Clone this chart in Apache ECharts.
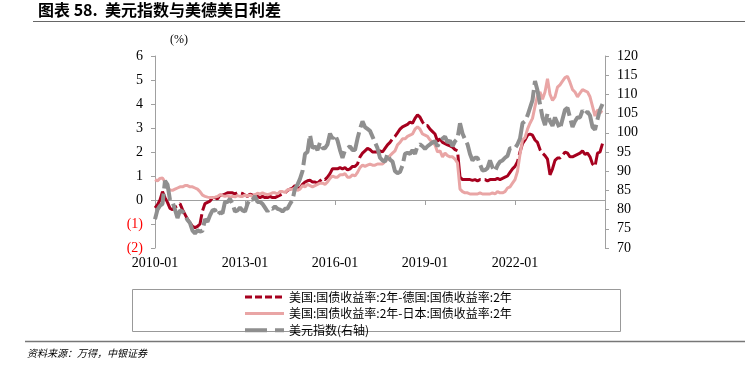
<!DOCTYPE html>
<html><head><meta charset="utf-8">
<script src="https://cdn.jsdelivr.net/npm/echarts/dist/echarts.min.js"></script>
<style>html,body{margin:0;padding:0;background:#fff}#c{width:745px;height:366px}</style>
</head><body><div id="c"></div>
<script>
// ---- data ----
const months = [];
for (let y = 2010; y <= 2024; y++) for (let m = 1; m <= 12; m++) months.push(y + '-' + String(m).padStart(2, '0'));

const xTickLabels = ['2010-01', '2013-01', '2016-01', '2019-01', '2022-01'];
const seriesNames = ['美国:国债收益率:2年-德国:国债收益率:2年', '美国:国债收益率:2年-日本:国债收益率:2年', '美元指数(右轴)'];

const usDeSpread = [
  -0.33,-0.2,0.0,0.35,0.1,-0.1,-0.35,-0.4,-0.3,-0.25,-0.15,-0.4,
  -0.6,-0.8,-0.95,-1.1,-1.15,-1.1,-1.0,-0.45,-0.15,-0.1,-0.05,0.1,
  0.1,0.05,0.2,0.2,0.25,0.3,0.3,0.3,0.25,0.3,0.3,0.27,
  0.2,0.15,0.25,0.2,0.2,0.15,0.1,0.15,0.1,0.1,0.15,0.1,
  0.1,0.15,0.2,0.25,0.3,0.4,0.45,0.5,0.6,0.5,0.5,0.65,
  0.75,0.8,0.82,0.75,0.75,0.7,0.8,0.9,0.85,0.95,1.1,1.3,
  1.3,1.3,1.35,1.3,1.35,1.25,1.3,1.4,1.4,1.5,1.8,1.95,
  2.05,2.15,2.1,2.0,2.0,2.0,2.05,2.0,2.15,2.3,2.4,2.55,
  2.65,2.8,2.95,3.05,3.1,3.15,3.25,3.2,3.4,3.55,3.45,3.25,
  3.1,3.1,2.95,2.85,2.75,2.45,2.55,2.4,2.35,2.3,2.25,2.2,
  2.1,2.05,0.95,0.85,0.85,0.85,0.85,0.82,0.85,0.8,0.85,0.85,
  0.85,0.8,0.85,0.85,0.85,0.9,0.85,0.9,0.95,1.0,1.15,1.3,
  1.4,1.6,2.0,2.35,2.5,2.7,2.75,2.7,2.5,2.4,2.1,1.95,
  1.85,1.7,1.05,1.3,1.65,1.75,1.75,1.85,2.0,1.95,1.8,1.8,
  1.85,1.9,1.95,2.05,1.9,1.95,1.8,1.5,1.4,1.95,2.0,2.35
];

const usJpSpread = [
  0.85,0.8,0.9,0.92,0.75,0.5,0.42,0.4,0.45,0.5,0.55,0.55,
  0.6,0.6,0.55,0.55,0.5,0.45,0.35,0.2,0.15,0.12,0.1,0.1,
  0.12,0.15,0.22,0.18,0.15,0.18,0.12,0.15,0.13,0.18,0.15,0.15,
  0.2,0.18,0.2,0.15,0.22,0.28,0.25,0.3,0.25,0.22,0.25,0.3,
  0.3,0.25,0.35,0.35,0.32,0.42,0.45,0.45,0.5,0.4,0.45,0.6,
  0.55,0.65,0.6,0.55,0.6,0.65,0.7,0.7,0.65,0.75,0.9,1.0,
  0.95,0.95,1.05,1.05,1.1,0.95,0.95,1.05,1.0,1.15,1.35,1.45,
  1.4,1.45,1.5,1.45,1.45,1.5,1.5,1.5,1.6,1.7,1.85,1.95,
  2.05,2.3,2.4,2.55,2.55,2.65,2.7,2.75,2.95,3.05,2.95,2.75,
  2.7,2.65,2.5,2.4,2.3,2.0,2.05,1.8,1.95,1.85,1.8,1.8,
  1.7,1.55,0.45,0.35,0.3,0.3,0.25,0.25,0.25,0.25,0.3,0.25,
  0.25,0.25,0.25,0.3,0.25,0.35,0.3,0.3,0.35,0.5,0.55,0.7,
  0.85,1.2,1.9,2.5,2.6,2.95,3.2,3.4,3.9,4.35,4.5,4.2,
  4.5,5.05,4.4,4.15,4.3,4.7,4.8,4.95,5.1,5.15,4.9,4.6,
  4.5,4.3,4.45,4.6,4.55,4.5,4.3,3.9,3.5,3.75,3.7,3.65
];

const dxy = [
  77.5,80.0,81.0,81.5,87.5,86.5,82.5,82.0,80.0,77.8,79.8,79.5,
  78.5,77.3,76.5,74.5,73.8,74.6,74.3,74.5,77.5,76.8,78.5,79.8,
  80.0,78.5,79.3,79.0,82.0,82.0,82.8,81.5,79.5,79.8,80.5,79.8,
  79.5,81.5,82.8,82.5,83.5,82.0,82.0,81.5,80.5,79.5,80.5,80.2,
  80.8,80.2,80.0,79.5,80.2,80.3,81.5,82.5,85.5,86.5,88.0,90.0,
  94.5,95.0,99.5,96.0,96.5,95.5,97.5,96.0,96.0,97.0,99.8,98.5,
  99.5,98.0,95.5,93.5,95.5,96.0,96.5,95.5,95.5,98.5,101.0,103.0,
  101.5,101.0,100.5,99.0,97.5,96.0,93.5,92.8,92.5,94.5,93.0,92.5,
  90.0,89.5,89.8,91.5,94.5,94.8,94.5,95.5,94.5,96.5,97.0,96.5,
  95.8,96.5,97.0,97.5,97.8,96.5,97.8,98.5,99.0,97.5,98.0,96.5,
  97.8,98.5,102.5,99.8,98.3,97.0,94.5,92.8,93.5,93.5,91.8,90.2,
  90.3,90.8,92.8,91.0,90.0,91.5,92.5,92.8,93.5,94.0,96.0,96.0,
  96.0,97.0,98.5,102.5,103.0,104.5,106.5,108.5,113.5,111.0,107.5,104.0,
  102.0,105.0,103.0,101.8,104.0,102.5,101.0,103.5,106.0,106.5,104.0,101.5,
  103.0,104.0,104.0,105.8,104.8,105.5,104.5,101.5,100.8,103.5,106.0,107.5
];

// ---- build ----
function toX(s) { const p = s.split('-').map(Number); return p[0] + (p[1] - 1) / 12; }
function pairs(vals) { return months.map((m, i) => [toX(m), vals[i]]); }

const RED = '#A6001E', PINK = '#E9A5A5', GRAY = '#8F8F8F', AX = '#A0A0A0';
const serif = '"Liberation Serif","Times New Roman",serif';
const cjk = '"Noto Sans CJK SC","Liberation Serif",sans-serif';

const chart = echarts.init(document.getElementById('c'), null, { renderer: 'canvas' });
chart.setOption({
  animation: false,
  backgroundColor: '#fff',
  grid: { left: 155, right: 140, top: 56, bottom: 118 },
  xAxis: [
    { type: 'value', position: 'top', min: 2010, max: 2025, interval: 3,
      axisLine: { show: true, onZero: true, lineStyle: { color: AX, width: 1 } },
      axisTick: { show: true, inside: true, length: 5, lineStyle: { color: AX } },
      axisLabel: { show: false }, splitLine: { show: false } },
    { type: 'value', position: 'bottom', min: 2010, max: 2025, interval: 3,
      axisLine: { show: false, onZero: false }, axisTick: { show: false }, splitLine: { show: false },
      axisLabel: { show: true, margin: 8, fontSize: 14, color: '#000', fontFamily: serif,
        formatter: v => { const i = Math.round((v - 2010) / 3); return xTickLabels[i] || ''; } } }
  ],
  yAxis: [
    { type: 'value', position: 'left', min: -2, max: 6, interval: 1,
      axisLine: { show: true, lineStyle: { color: AX } },
      axisTick: { show: true, length: 4, lineStyle: { color: AX } },
      splitLine: { show: false },
      axisLabel: { margin: 12, fontSize: 14, fontFamily: serif,
        color: v => (Number(v) < 0 ? '#FF0000' : '#000'),
        formatter: v => (v < 0 ? '(' + (-v) + ')' : String(v)) } },
    { type: 'value', position: 'right', min: 70, max: 120, interval: 5,
      axisLine: { show: true, lineStyle: { color: AX } },
      axisTick: { show: true, length: 4, lineStyle: { color: AX } },
      splitLine: { show: false },
      axisLabel: { margin: 12, fontSize: 14, fontFamily: serif, color: '#000' } }
  ],
  legend: {
    orient: 'vertical', left: 243, top: 291, itemWidth: 39, itemHeight: 10, itemGap: 4.6,
    padding: 0,
    textStyle: { fontSize: 12, lineHeight: 10, color: '#000', fontFamily: cjk },
    itemStyle: { opacity: 0 },
    data: [
      { name: seriesNames[0], lineStyle: { color: RED, width: 3, type: [7, 3] } },
      { name: seriesNames[1], lineStyle: { color: PINK, width: 3, type: 'solid' } },
      { name: seriesNames[2], lineStyle: { color: GRAY, width: 4, type: [22, 8] } }
    ]
  },
  series: [
    { name: seriesNames[0], type: 'line', xAxisIndex: 1, yAxisIndex: 0, symbol: 'none', data: pairs(usDeSpread),
      lineStyle: { color: RED, width: 3, type: [45, 4] }, itemStyle: { color: RED } },
    { name: seriesNames[1], type: 'line', xAxisIndex: 1, yAxisIndex: 0, symbol: 'none', data: pairs(usJpSpread),
      lineStyle: { color: PINK, width: 3 }, itemStyle: { color: PINK } },
    { name: seriesNames[2], type: 'line', xAxisIndex: 1, yAxisIndex: 1, symbol: 'none', data: pairs(dxy),
      lineStyle: { color: GRAY, width: 4, type: [28, 5] }, itemStyle: { color: GRAY } }
  ],
  graphic: [
    { type: 'text', x: 38, y: 10, style: { text: '图表 58.  美元指数与美德美日利差', font: 'bold 16px ' + cjk, fill: '#000', verticalAlign: 'middle' } },
    { type: 'line', shape: { x1: 33, y1: 21.5, x2: 745, y2: 21.5 }, style: { stroke: '#666', lineWidth: 1 } },
    { type: 'text', x: 170, y: 40, style: { text: '(%)', font: '12px ' + serif, fill: '#000', verticalAlign: 'middle' } },
    { type: 'rect', shape: { x: 132.5, y: 289.5, width: 488, height: 42 }, style: { fill: 'none', stroke: '#999', lineWidth: 1 } },
    { type: 'line', shape: { x1: 25, y1: 341.5, x2: 745, y2: 341.5 }, style: { stroke: '#777', lineWidth: 1.5 } },
    { type: 'text', x: 27, y: 353, style: { text: '资料来源：万得，中银证券', font: 'italic 10px ' + cjk, fill: '#000', verticalAlign: 'middle' } }
  ]
});
</script></body></html>
